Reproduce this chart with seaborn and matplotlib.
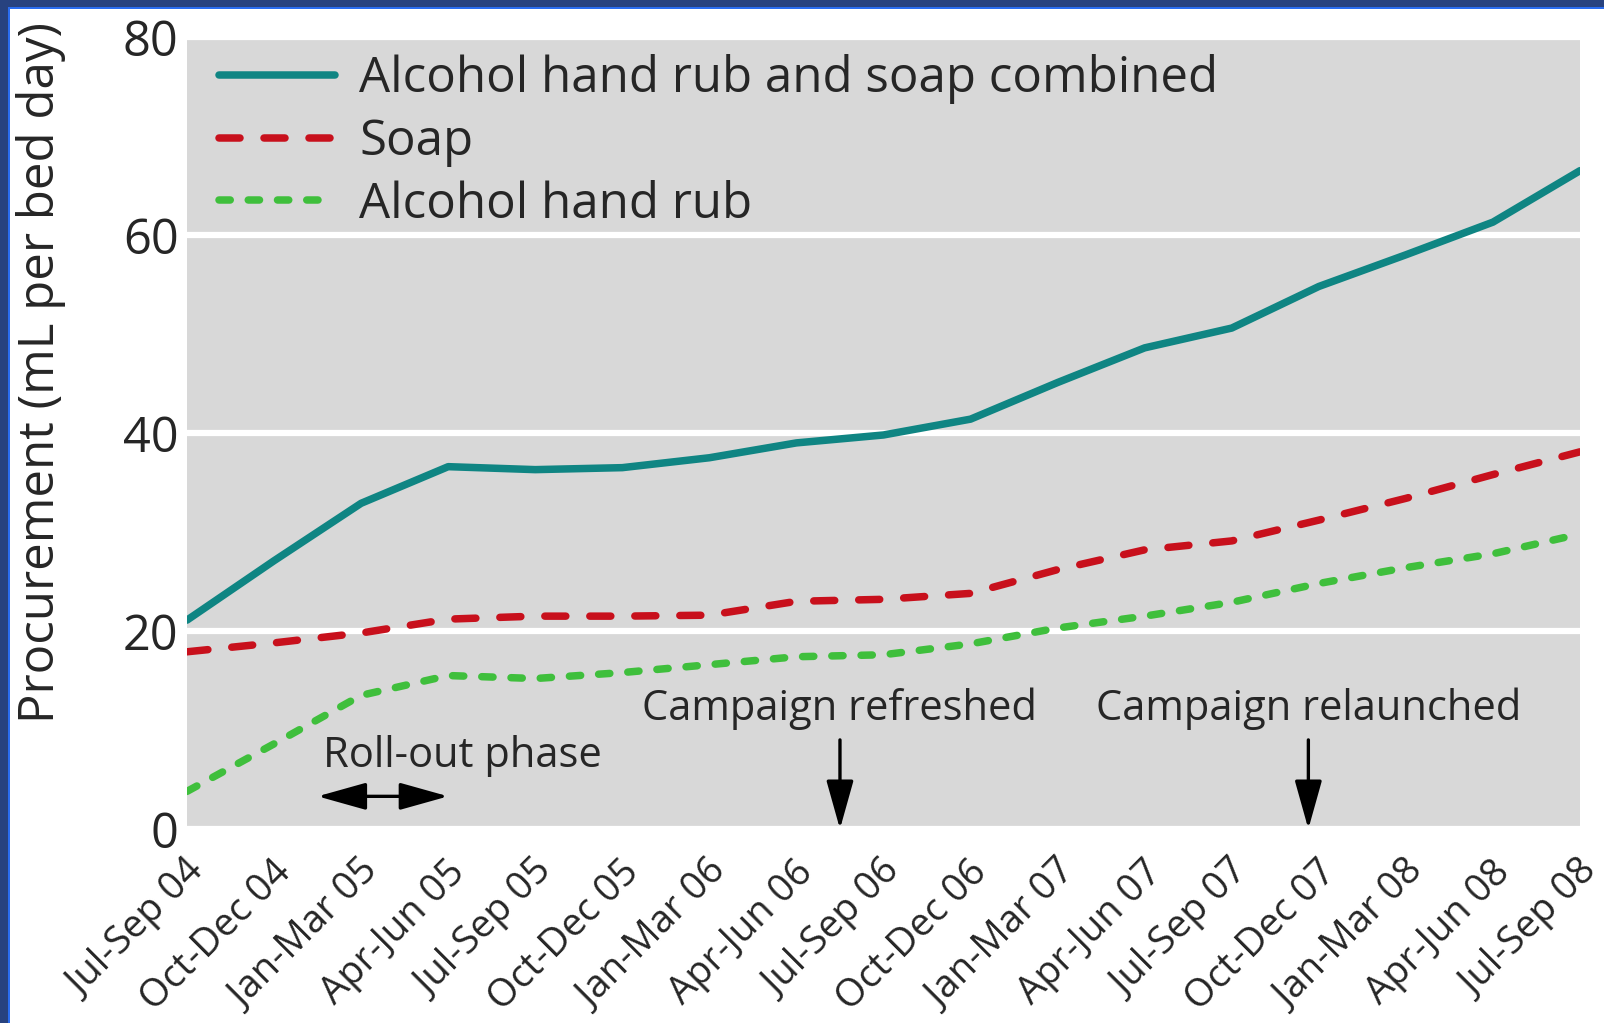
import matplotlib
matplotlib.use("Agg")
import matplotlib.pyplot as plt
import matplotlib.patches as mpatches
import matplotlib.transforms as mtransforms
import pandas as pd
import seaborn as sns

QUARTERS = ["Jul-Sep 04", "Oct-Dec 04", "Jan-Mar 05", "Apr-Jun 05", "Jul-Sep 05",
            "Oct-Dec 05", "Jan-Mar 06", "Apr-Jun 06", "Jul-Sep 06", "Oct-Dec 06",
            "Jan-Mar 07", "Apr-Jun 07", "Jul-Sep 07", "Oct-Dec 07", "Jan-Mar 08",
            "Apr-Jun 08", "Jul-Sep 08"]
combined = [21.1, 27.1, 32.9, 36.6, 36.3, 36.5, 37.5, 39.0, 39.8, 41.4, 45.1,
            48.6, 50.6, 54.8, 58.0, 61.3, 66.5]
soap = [17.9, 18.8, 19.8, 21.2, 21.5, 21.5, 21.6, 23.0, 23.2, 23.8, 26.2,
        28.2, 29.1, 31.2, 33.4, 35.8, 38.1]
hand_rub = [3.8, 8.6, 13.5, 15.5, 15.2, 15.8, 16.6, 17.4, 17.6, 18.7, 20.3,
            21.5, 22.9, 24.8, 26.4, 27.8, 29.8]
SERIES = ["Alcohol hand rub and soap combined", "Soap", "Alcohol hand rub"]

sns.set_theme(style="white")
plt.rcParams["font.family"] = ["Open Sans", "DejaVu Sans"]
plt.rcParams["lines.dash_capstyle"] = "round"
plt.rcParams["lines.solid_capstyle"] = "round"

rows = []
for name, vals in zip(SERIES, [combined, soap, hand_rub]):
    for i, v in enumerate(vals):
        rows.append({"quarter": i, "value": v, "series": name})
df = pd.DataFrame(rows)

palette = {SERIES[0]: "#0f8583", SERIES[1]: "#c8101c", SERIES[2]: "#3fbf3c"}
dashes = {SERIES[0]: "", SERIES[1]: (2.8, 3.2), SERIES[2]: (1.5, 2.4)}

fig = plt.figure(figsize=(16.04, 10.23), dpi=100)
ax = fig.add_axes([187 / 1604, 1 - 829 / 1023, (1580 - 187) / 1604, (829 - 37) / 1023])
ax.set_facecolor("#d8d8d8")

sns.lineplot(data=df, x="quarter", y="value", hue="series", style="series",
             palette=palette, dashes=dashes, linewidth=5.4, sort=False,
             ax=ax, legend=True, zorder=3)

ax.set_xlim(0, 16)
ax.set_ylim(0, 80)
ax.set_yticks([0, 20, 40, 60, 80])
ax.set_xticks(range(len(QUARTERS)))
ax.tick_params(axis="y", labelsize=35, length=0, pad=6)
ax.tick_params(axis="x", direction="in", length=9, width=2.5, color="white", pad=27)
ax.set_xticklabels(QUARTERS, rotation=45, ha="right", va="center",
                   rotation_mode="anchor", fontsize=27.5)
# nudge the slanted labels to the right (after tick_params, which resets transforms)
shift = mtransforms.ScaledTranslation(8 / 72, 0, fig.dpi_scale_trans)
for lab in ax.get_xticklabels():
    lab.set_transform(lab.get_transform() + shift)
ax.yaxis.grid(True, color="white", linewidth=4.5)
ax.set_axisbelow(True)
for s in ax.spines.values():
    s.set_visible(False)
ax.set_xlabel("")
ax.set_ylabel("Procurement (mL per bed day)", fontsize=35.5)
ax.yaxis.set_label_coords(-0.087, 0.576)

handles, labels = ax.get_legend_handles_labels()
ax.legend(handles, labels, loc="upper left", frameon=False, fontsize=35.5,
          handlelength=2.35, handletextpad=0.5, labelspacing=0.27,
          borderaxespad=0.3, bbox_to_anchor=(-0.002, 1.022))

arrow_head = "-|>,head_length=1.5,head_width=0.42"
ax.annotate("", xy=(1.5, 3.3), xytext=(3.0, 3.3),
            arrowprops=dict(arrowstyle="<|-|>,head_length=1.5,head_width=0.42",
                            color="black", lw=2.4, mutation_scale=20,
                            shrinkA=0, shrinkB=0))
ax.text(1.56, 6.3, "Roll-out phase", fontsize=30, ha="left", va="baseline")

ax.annotate("", xy=(7.5, 0), xytext=(7.5, 9.0),
            arrowprops=dict(arrowstyle=arrow_head, color="black", lw=2.4,
                            mutation_scale=20, shrinkA=0, shrinkB=0))
ax.text(7.5, 11.0, "Campaign refreshed", fontsize=30, ha="center", va="baseline")

ax.annotate("", xy=(12.88, 0), xytext=(12.88, 9.0),
            arrowprops=dict(arrowstyle=arrow_head, color="black", lw=2.4,
                            mutation_scale=20, shrinkA=0, shrinkB=0))
ax.text(12.88, 11.0, "Campaign relaunched", fontsize=30, ha="center", va="baseline")

# slide frame (top and left)
frame = dict(transform=fig.transFigure, linewidth=0, zorder=10)
fig.patches.append(mpatches.Rectangle((0, 1 - 7 / 1023), 1, 7 / 1023,
                                      facecolor="#27427f", **frame))
fig.patches.append(mpatches.Rectangle((0, 0), 8 / 1604, 1,
                                      facecolor="#27427f", **frame))
fig.patches.append(mpatches.Rectangle((8 / 1604, 0), 2 / 1604, 1 - 7 / 1023,
                                      facecolor="#2a6df0", **frame))
fig.patches.append(mpatches.Rectangle((8 / 1604, 1 - 9 / 1023), 1 - 8 / 1604, 2 / 1023,
                                      facecolor="#2a6df0", **frame))

fig.savefig("out.png", dpi=100, facecolor="white")
